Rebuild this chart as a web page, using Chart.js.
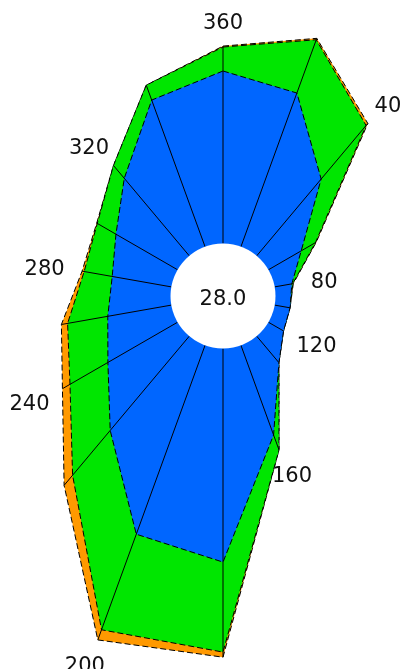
<!DOCTYPE html>
<html>
<head>
<meta charset="utf-8">
<style>
  html, body { margin: 0; padding: 0; background: #fff; }
  #wrap { width: 408px; height: 669px; position: relative; }
</style>
<script src="https://cdn.jsdelivr.net/npm/chart.js@4/dist/chart.umd.min.js"></script>
</head>
<body>
<div id="wrap"><canvas id="roseChart"></canvas></div>
<script>
// directions (degrees), clockwise from north
const directions = ['360', '20', '40', '60', '80', '100', '120', '140', '160',
                    '180', '200', '220', '240', '260', '280', '300', '320', '340'];
// only every other direction gets a label
const tickLabels = ['360', '40', '80', '120', '160', '200', '240', '280', '320'];

// per layer values (inner to outer)
const blueValues   = [5.75, 5.45, 3.34, 1.26, 0.58, 0.52, 0.58, 1.15, 3.18, 7.12, 6.70, 4.10, 2.68, 2.15, 2.00, 2.37, 3.37, 5.20];
const greenValues  = [0.80, 1.89, 2.33, 0.55, 0.03, 0.00, 0.00, 0.00, 0.53, 3.00, 3.39, 1.95, 1.46, 1.36, 0.95, 0.72, 0.56, 0.53];
const orangeValues = [0.03, 0.05, 0.09, 0.03, 0.02, 0.00, 0.00, 0.00, 0.00, 0.17, 0.36, 0.44, 0.29, 0.21, 0.07, 0.02, 0.00, 0.00];

const calmLabel = '28.0';

// stack the layers
const blueTop = blueValues.slice();
const greenTop = blueTop.map((v, i) => v + greenValues[i]);
const orangeTop = greenTop.map((v, i) => v + orangeValues[i]);

const FONT = '"DejaVu Sans", Verdana, sans-serif';

// spokes, the calm hole and the direction labels
const rosePlugin = {
    id: 'rose',
    afterDatasetsDraw(chart) {
        const scale = chart.scales.r;
        const ctx = chart.ctx;
        ctx.save();

        ctx.strokeStyle = '#000';
        ctx.lineWidth = 1;
        directions.forEach((d, i) => {
            const a = scale.getPointPositionForValue(i, 0);
            const b = scale.getPointPositionForValue(i, orangeTop[i]);
            ctx.beginPath();
            ctx.moveTo(a.x, a.y);
            ctx.lineTo(b.x, b.y);
            ctx.stroke();
        });

        // white hole with the calm value
        const holeR = scale.getDistanceFromCenterForValue(0);
        ctx.fillStyle = '#fff';
        ctx.beginPath();
        ctx.arc(scale.xCenter, scale.yCenter, holeR, 0, Math.PI * 2);
        ctx.fill();

        ctx.fillStyle = '#111';
        ctx.font = '21px ' + FONT;
        ctx.textAlign = 'center';
        ctx.textBaseline = 'middle';
        ctx.fillText(calmLabel, scale.xCenter, scale.yCenter + 3.5);

        // label box sits just outside the outer tip of each spoke
        const gap = 18;
        const textH = 15;
        directions.forEach((d, i) => {
            if (!tickLabels.includes(d)) return;
            const tip = scale.getPointPositionForValue(i, orangeTop[i]);
            const w = ctx.measureText(d).width;
            const x = tip.x + Math.cos(tip.angle) * (w / 2 + gap);
            const y = tip.y + Math.sin(tip.angle) * (textH / 2 + gap);
            ctx.fillText(d, x, y + 3);
        });

        ctx.restore();
    },
};

const layer = (label, data, color) => ({
    label: label,
    data: data,
    backgroundColor: color,
    borderColor: '#000',
    borderWidth: 1,
    borderDash: [6, 3],
    pointRadius: 0,
    pointHoverRadius: 0,
    fill: 'start',
    clip: false,
});

new Chart(document.getElementById('roseChart'), {
    type: 'radar',
    data: {
        labels: directions,
        datasets: [
            layer('blue', blueTop, '#0066ff'),
            layer('green', greenTop, '#00e600'),
            layer('orange', orangeTop, '#ff9900'),
        ],
    },
    options: {
        responsive: true,
        maintainAspectRatio: false,
        animation: false,
        scales: {
            r: {
                min: -1.75,
                max: 5.05,
                ticks: { display: false },
                grid: { display: false },
                angleLines: { display: false },
                pointLabels: { display: false },
                // rose sits up and to the right of the canvas middle
                afterFit: (scale) => {
                    scale.xCenter += 19;
                    scale.yCenter -= 38;
                },
            },
        },
        plugins: {
            legend: { display: false },
            tooltip: { enabled: false },
        },
    },
    plugins: [rosePlugin],
});
</script>
</body>
</html>
